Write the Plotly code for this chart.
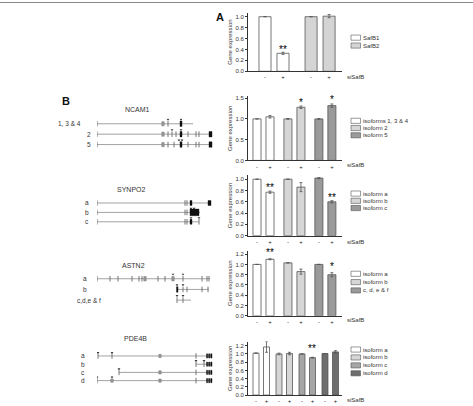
import plotly.graph_objects as go

W, H = 473, 406
FONT = "Liberation Sans, Arial, sans-serif"
TXT = "#333333"
EDGE = "#555555"

def fx(p):
    return p / W

def fy(p):
    return 1 - p / H

# ---------------- DATA ----------------
tick_minus_plus = ["-", "+"]
treatment_label = "siSafB"
ylabel = "Gene expression"

# Panel A
A_series = ["SafB1", "SafB2"]
A_vals = [[1.00, 0.33], [1.00, 1.01]]
A_err = [[0.0, 0.02], [0.0, 0.03]]
A_colors = ["#ffffff", "#d4d4d4"]
A_stars = [(0, 1, "**", 0.40)]

# NCAM1
N_series = ["isoforms 1, 3 & 4", "isoform 2", "isoform 5"]
N_vals = [[1.00, 1.05], [1.00, 1.28], [1.00, 1.32]]
N_err = [[0.0, 0.03], [0.01, 0.03], [0.01, 0.04]]
N_colors = ["#ffffff", "#d6d6d6", "#9a9a9a"]
N_stars = [(1, 1, "*", 1.40), (2, 1, "*", 1.47)]

# SYNPO2
S_series = ["isoform a", "isoform b", "isoform c"]
S_vals = [[1.00, 0.77], [1.00, 0.86], [1.02, 0.60]]
S_err = [[0.0, 0.02], [0.0, 0.08], [0.01, 0.02]]
S_colors = ["#ffffff", "#d6d6d6", "#9a9a9a"]
S_stars = [(0, 1, "**", 0.86), (2, 1, "**", 0.68)]

# ASTN2
T_series = ["isoform a", "isoform b", "c, d, e & f"]
T_vals = [[1.00, 1.10], [1.03, 0.86], [1.00, 0.80]]
T_err = [[0.0, 0.01], [0.0, 0.05], [0.0, 0.04]]
T_colors = ["#ffffff", "#d6d6d6", "#9a9a9a"]
T_stars = [(0, 1, "**", 1.24), (2, 1, "*", 0.95)]

# PDE4B
P_series = ["isoform a", "isoform b", "isoform c", "isoform d"]
P_vals = [[1.02, 1.17], [1.00, 1.01], [1.00, 0.91], [1.01, 1.05]]
P_err = [[0.0, 0.13], [0.02, 0.03], [0.0, 0.01], [0.0, 0.03]]
P_colors = ["#ffffff", "#d6d6d6", "#a6a6a6", "#6e6e6e"]
P_stars = [(2, 1, "**", 1.13)]

# Gene models (arbitrary genomic units)
# each row: label, intron span, thin exons, gray boxes, black boxes, primer marks
NCAM1_rows = [
    ("1, 3 & 4", (0, 96), [0, 71], [66], [(83, 85)], [71, 84]),
    ("2", (0, 115), [0, 71, 75, 79, 91, 99, 102], [66], [(83, 85), (112, 115)], [75, 84]),
    ("5", (0, 115), [0, 71, 77, 91, 99, 102], [66], [(83, 85), (112, 115)], [82, 85]),
]
SYNPO2_rows = [
    ("a", (0, 113), [0, 88, 90], [], [(93, 95), (111, 114)], []),
    ("b", (0, 103), [0, 88, 90], [], [(93, 102)], [94, 97]),
    ("c", (0, 102), [0, 88, 90, 102], [], [(93, 95)], [94, 102]),
]
ASTN2_rows = [
    ("a", (0, 113), [0, 13, 21, 35, 42, 45, 61, 68, 86, 105, 110, 112], [48, 76], [], [76, 86]),
    ("b", (80, 112), [86, 90, 105, 111], [], [(79.5, 81)], [80, 86]),
    ("c,d,e & f", (80, 94), [80, 86], [], [], [80, 86]),
]
PDE4B_end = [(109.5, 110.7), (111.6, 112.8), (113.7, 115)]
PDE4B_rows = [
    ("a", (1, 115), [1, 15, 99], [63], PDE4B_end, [1, 15]),
    ("b", (99, 115), [99, 107], [], PDE4B_end, [99, 107]),
    ("c", (22, 115), [22, 99], [63], PDE4B_end, [22]),
    ("d", (0, 115), [0, 99], [15, 63], PDE4B_end, [0, 15]),
]
gene_names = ["NCAM1", "SYNPO2", "ASTN2", "PDE4B"]

# ---------------- LAYOUT SPECS (pixels) ----------------
bar_panels = [
    dict(series=A_series, vals=A_vals, err=A_err, colors=A_colors, stars=A_stars,
         y0=71, y1=12, yr=1.07, dtick=0.2, gap=2.56, width=0.67, unit=18, first=265,
         leg_y=37, leg_dy=8, lab_y=77),
    dict(series=N_series, vals=N_vals, err=N_err, colors=N_colors, stars=N_stars,
         y0=161, y1=96, yr=1.55, dtick=0.5, gap=2.38, width=0.62, unit=13, first=257,
         leg_y=121, leg_dy=7.3, lab_y=166),
    dict(series=S_series, vals=S_vals, err=S_err, colors=S_colors, stars=S_stars,
         y0=237, y1=176, yr=1.07, dtick=0.2, gap=2.38, width=0.62, unit=13, first=257,
         leg_y=194.5, leg_dy=7.3, lab_y=243),
    dict(series=T_series, vals=T_vals, err=T_err, colors=T_colors, stars=T_stars,
         y0=318, y1=252, yr=1.27, dtick=0.2, gap=2.38, width=0.62, unit=13, first=257,
         leg_y=275.5, leg_dy=8.4, lab_y=322),
    dict(series=P_series, vals=P_vals, err=P_err, colors=P_colors, stars=P_stars,
         y0=398, y1=344, yr=1.3, dtick=0.2, gap=2.19, width=0.57, unit=10.5, first=256,
         leg_y=352, leg_dy=8, lab_y=403),
]
AX_L, AX_R = 248, 342

fig = go.Figure()
layout = dict(
    width=W, height=H, margin=dict(l=0, r=0, t=0, b=0),
    paper_bgcolor="white", plot_bgcolor="white", showlegend=False,
    font=dict(family=FONT, size=6, color=TXT),
)
shapes = []
annots = []

for i, p in enumerate(bar_panels, start=1):
    xa, ya = f"x{i}", f"y{i}"
    positions = []
    for g, (vals, errs, col) in enumerate(zip(p["vals"], p["err"], p["colors"])):
        xs = [g * p["gap"], g * p["gap"] + 1]
        positions += xs
        fig.add_trace(go.Bar(
            x=xs, y=vals, width=p["width"], xaxis=xa, yaxis=ya,
            marker=dict(color=col, line=dict(color=EDGE, width=0.8)),
            error_y=dict(type="data", array=errs, color=EDGE, thickness=0.8, width=1.5),
        ))
    lo = -(p["first"] - AX_L) / p["unit"]
    hi = lo + (AX_R - AX_L) / p["unit"]
    layout[f"xaxis{i}"] = dict(
        domain=[fx(AX_L), fx(AX_R)], range=[lo, hi], anchor=ya,
        showline=True, linecolor="#333", linewidth=0.8, showgrid=False, zeroline=False,
        tickvals=positions, ticktext=tick_minus_plus * len(p["vals"]),
        ticks="", tickfont=dict(size=6, color="#222"), fixedrange=True,
    )
    layout[f"yaxis{i}"] = dict(
        domain=[fy(p["y0"]), fy(p["y1"])], range=[0, p["yr"]], anchor=xa,
        showline=True, linecolor="#333", linewidth=0.8, showgrid=False, zeroline=False,
        dtick=p["dtick"], tick0=0, tickformat=".1f", ticks="outside", ticklen=2,
        tickcolor="#333", tickfont=dict(size=6, color=TXT),
        title=dict(text=ylabel, font=dict(size=6, color=TXT), standoff=2),
    )
    for (g, k, txt, yv) in p["stars"]:
        annots.append(dict(x=g * p["gap"] + k, y=yv, xref=xa, yref=ya, text=txt,
                           showarrow=False, font=dict(size=10, color="black"),
                           xanchor="center", yanchor="middle"))
    annots.append(dict(x=fx(345), y=fy(p["lab_y"]), xref="paper", yref="paper",
                       text=treatment_label, showarrow=False, xanchor="left",
                       yanchor="middle", font=dict(size=6, color=TXT)))
    for j, (name, col) in enumerate(zip(p["series"], p["colors"])):
        cy = p["leg_y"] + j * p["leg_dy"]
        shapes.append(dict(type="rect", xref="paper", yref="paper",
                           x0=fx(351), x1=fx(360.5), y0=fy(cy + 2.6), y1=fy(cy - 2.6),
                           fillcolor=col, line=dict(color=EDGE, width=0.6)))
        annots.append(dict(x=fx(361), y=fy(cy), xref="paper", yref="paper", text=name,
                           showarrow=False, xanchor="left", yanchor="middle",
                           font=dict(size=6, color=TXT)))

# ---------------- GENE DIAGRAMS ----------------
gene_rows = [NCAM1_rows, SYNPO2_rows, ASTN2_rows, PDE4B_rows]
gene_row_px = [(124, 10.5), (204, 9.5), (280.5, 10.8), (358.5, 8.3)]
gene_title_px = [(137, 110), (131, 190), (133, 267), (135, 341)]
gene_label_x = [[69, 89, 89], [87, 87, 87], [85, 85, 89], [83, 83, 83, 83]]
G_L, G_R = 97, 213

for gi, rows in enumerate(gene_rows):
    idx = 6 + gi
    xa, ya = f"x{idx}", f"y{idx}"
    top, s = gene_row_px[gi]
    n = len(rows)
    layout[f"xaxis{idx}"] = dict(domain=[fx(G_L), fx(G_R)], range=[0, G_R - G_L],
                                 visible=False, anchor=ya, fixedrange=True)
    layout[f"yaxis{idx}"] = dict(domain=[fy(top + (n - 0.5) * s), fy(top - 0.5 * s)],
                                 range=[n - 0.5, -0.5], visible=False, anchor=xa,
                                 fixedrange=True)
    lx, ly, tx, ty, mx, my = [], [], [], [], [], []
    for r, (lab, span, thin, gray, black, marks) in enumerate(rows):
        lx += [span[0], span[1], None]
        ly += [r, r, None]
        tx += thin
        ty += [r] * len(thin)
        mx += marks
        my += [r - 0.42] * len(marks)
        for gx in gray:
            shapes.append(dict(type="rect", xref=xa, yref=ya, x0=gx - 1.2, x1=gx + 1.2,
                               y0=r - 0.2, y1=r + 0.2, fillcolor="#9a9a9a",
                               line=dict(color="#777", width=0.5)))
        for (b0, b1) in black:
            hh = 0.35 if (b1 - b0) > 4 else 0.26
            shapes.append(dict(type="rect", xref=xa, yref=ya, x0=b0, x1=b1,
                               y0=r - hh, y1=r + hh, fillcolor="#111",
                               line=dict(color="#111", width=0.4)))
        annots.append(dict(x=fx(gene_label_x[gi][r]), y=fy(top + r * s), xref="paper",
                           yref="paper", text=lab, showarrow=False, xanchor="center",
                           yanchor="middle", font=dict(size=6.5, color=TXT)))
    fig.add_trace(go.Scatter(x=lx, y=ly, xaxis=xa, yaxis=ya, mode="lines",
                             line=dict(color="#8a8a8a", width=0.8), hoverinfo="skip"))
    fig.add_trace(go.Scatter(x=tx, y=ty, xaxis=xa, yaxis=ya, mode="markers",
                             marker=dict(symbol="line-ns", size=4,
                                         line=dict(color="#666", width=0.9)),
                             hoverinfo="skip"))
    fig.add_trace(go.Scatter(x=mx, y=my, xaxis=xa, yaxis=ya, mode="markers",
                             marker=dict(symbol="triangle-down", size=2.5, color="#333"),
                             hoverinfo="skip"))
    gx_, gy_ = gene_title_px[gi]
    annots.append(dict(x=fx(gx_), y=fy(gy_), xref="paper", yref="paper",
                       text=gene_names[gi], showarrow=False, xanchor="center",
                       yanchor="middle", font=dict(size=7, color=TXT)))

annots.append(dict(x=fx(220), y=fy(16), xref="paper", yref="paper", text="<b>A</b>",
                   showarrow=False, xanchor="center", yanchor="middle",
                   font=dict(size=11, color="#111")))
annots.append(dict(x=fx(66), y=fy(101), xref="paper", yref="paper", text="<b>B</b>",
                   showarrow=False, xanchor="center", yanchor="middle",
                   font=dict(size=11, color="#111")))
shapes.append(dict(type="line", xref="paper", yref="paper", x0=0, x1=1,
                   y0=fy(1.5), y1=fy(1.5), line=dict(color="#888", width=1)))

layout["shapes"] = shapes
layout["annotations"] = annots
fig.update_layout(**layout)
fig.write_html("out.html")
